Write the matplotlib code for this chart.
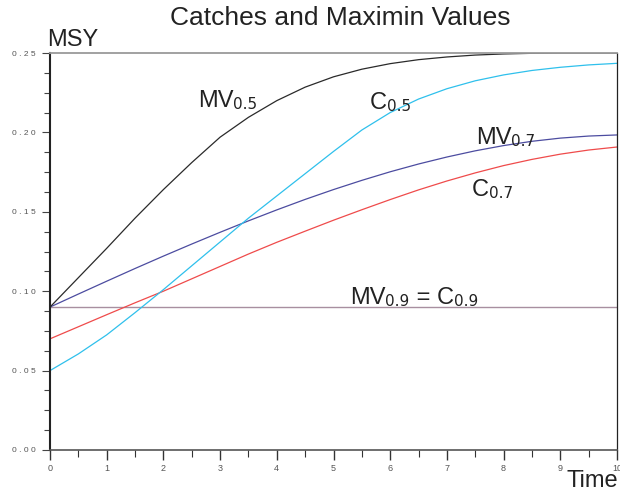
import matplotlib.pyplot as plt

plt.rcParams['font.family'] = ['Liberation Sans', 'DejaVu Sans']

t = [0, 0.5, 1, 1.5, 2, 2.5, 3, 3.5, 4, 4.5, 5, 5.5, 6, 6.5, 7, 7.5, 8, 8.5, 9, 9.5, 10]

mv05 = [0.090, 0.1085, 0.127, 0.146, 0.164, 0.181, 0.197, 0.2095, 0.2200, 0.2285, 0.2350,
        0.2398, 0.2433, 0.2458, 0.2475, 0.2487, 0.2494, 0.2498, 0.2500, 0.2500, 0.2500]
c05 = [0.050, 0.0605, 0.0725, 0.0865, 0.101, 0.116, 0.131, 0.146, 0.160, 0.174, 0.188,
       0.2015, 0.2125, 0.2210, 0.2275, 0.2325, 0.2362, 0.2390, 0.2410, 0.2425, 0.2435]
mv07 = [0.090, 0.0982, 0.1063, 0.1143, 0.1221, 0.1297, 0.1371, 0.1443, 0.1512, 0.1578, 0.1640,
        0.1698, 0.1752, 0.1801, 0.1845, 0.1884, 0.1917, 0.1944, 0.1964, 0.1977, 0.1984]
c07 = [0.070, 0.0776, 0.0852, 0.0927, 0.1000, 0.1078, 0.1156, 0.1234, 0.1308, 0.1378, 0.1447,
       0.1513, 0.1577, 0.1638, 0.1694, 0.1745, 0.1791, 0.1830, 0.1863, 0.1889, 0.1908]
level09 = 0.09
msy = 0.25

yticks = [0, 0.05, 0.10, 0.15, 0.20, 0.25]

fig = plt.figure(figsize=(6.2, 4.93), dpi=100)
ax = fig.add_axes([50/620, 43/493, 567/620, 397/493])

ax.axhline(level09, color='#a88fa0', lw=1.0)
ax.plot(t, c07, color='#ef4b4b', lw=0.9)
ax.plot(t, mv07, color='#4c4ca0', lw=0.9)
ax.plot(t, c05, color='#2fc0ec', lw=0.9)
ax.plot(t, mv05, color='#2a2a2a', lw=0.9)

ax.set_xlim(0, 10)
ax.set_ylim(0, msy)

ax.spines['top'].set_color('#9a9a9a')
ax.spines['top'].set_linewidth(1.3)
ax.spines['left'].set_color('#222222')
ax.spines['left'].set_linewidth(1.5)
ax.spines['bottom'].set_color('#555555')
ax.spines['bottom'].set_linewidth(1.2)
ax.spines['right'].set_color('#222222')
ax.spines['right'].set_linewidth(0.9)

# spaced-out tick labels like the original
ax.set_yticks(yticks)
ax.set_yticklabels([' '.join(f"{v:.2f}") for v in yticks])
ax.set_yticks([i * 0.0125 for i in range(21)], minor=True)
ax.set_xticks(range(11))
ax.set_xticklabels([str(i) for i in range(11)])
ax.set_xticks([i * 0.5 for i in range(21)], minor=True)

ax.tick_params(axis='y', which='major', length=6, width=0.8, color='#444444',
               labelsize=6, labelcolor='#555555', pad=4)
ax.tick_params(axis='y', which='minor', length=4, width=0.8, color='#444444')
ax.tick_params(axis='x', which='major', length=7, width=1.0, color='#333333',
               labelsize=6.5, labelcolor='#555555', pad=3)
ax.tick_params(axis='x', which='minor', length=5, width=0.8, color='#333333')

fig.text(340/620, 1 - 18/493, 'Catches and Maximin Values', ha='center', va='center',
         fontsize=19, color='#222222')
fig.text(47/620, 1 - 40/493, 'MSY', ha='left', va='center', fontsize=17, color='#222222')
fig.text(618/620, 1/493, 'Time', ha='right', va='bottom', fontsize=17, color='#222222')


def label(x, y, parts):
    prev = ax.text(x, y, parts[0], fontsize=17, color='#222222', va='baseline', ha='left')
    for i, p in enumerate(parts[1:]):
        if i % 2 == 0:
            prev = ax.annotate(p, xy=(1, 0), xycoords=prev, fontsize=11, family='DejaVu Sans',
                               color='#222222', va='bottom', ha='left')
        else:
            prev = ax.annotate(p, xy=(1, 0), xycoords=prev, fontsize=17,
                               color='#222222', va='bottom', ha='left')


label(2.61, 0.216, ['MV', '0.5'])
label(5.64, 0.215, ['C', '0.5'])
label(7.51, 0.193, ['MV', '0.7'])
label(7.44, 0.160, ['C', '0.7'])
label(5.29, 0.092, ['MV', '0.9', ' = C', '0.9'])

fig.savefig('out.png', dpi=100)
